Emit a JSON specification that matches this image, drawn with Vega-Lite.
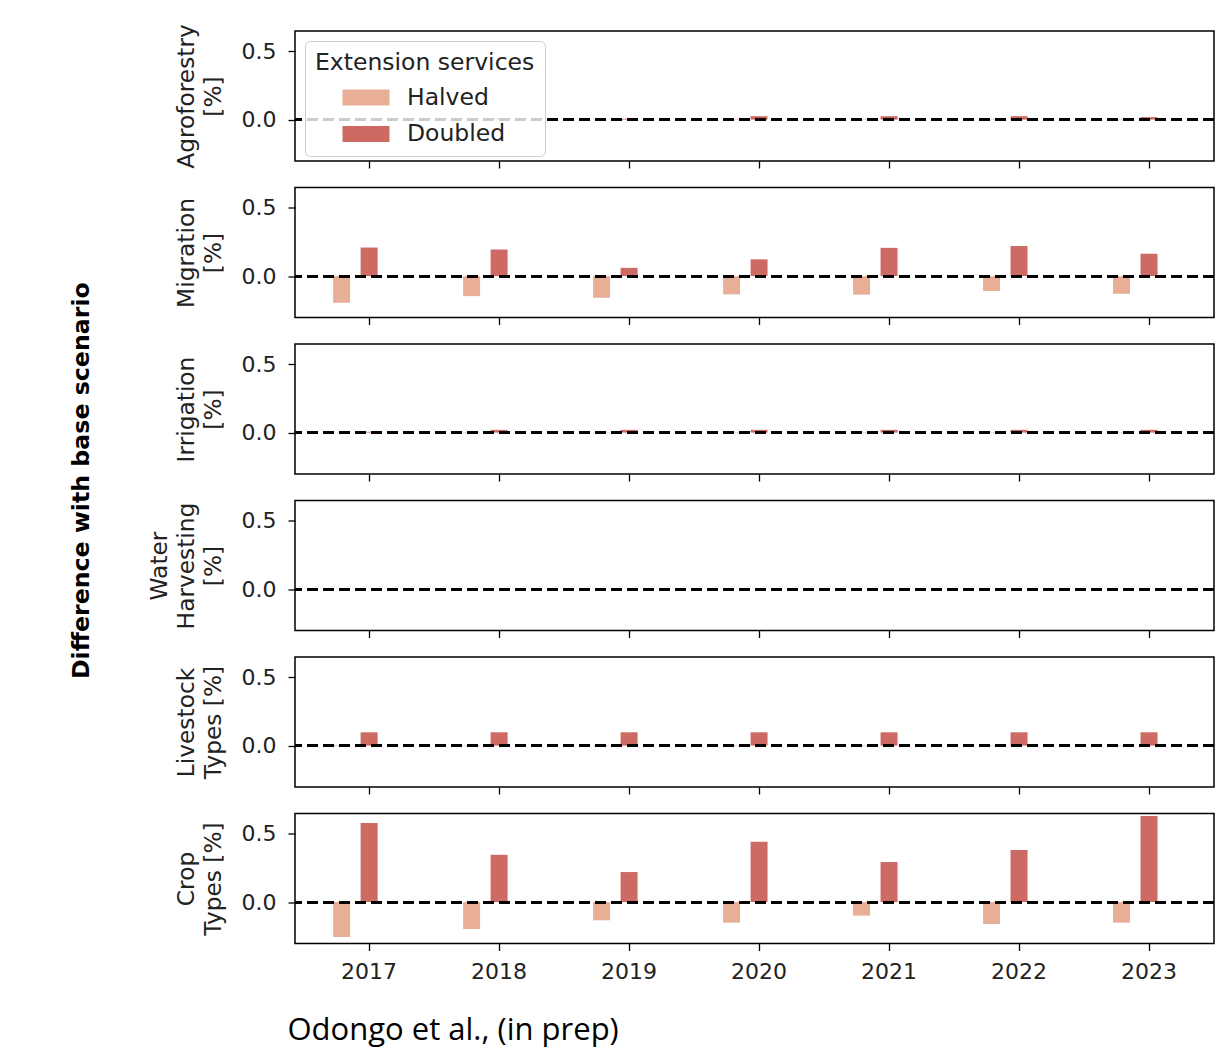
{
  "$schema": "https://vega.github.io/schema/vega-lite/v6.json",
  "padding": {"left": 69, "top": 22, "right": 5, "bottom": 6},
  "background": "white",
  "title": {"text": "Difference with base scenario", "orient": "left", "anchor": "middle", "fontSize": 23.7, "fontWeight": "bold", "font": "DejaVu Sans", "color": "black", "offset": 53, "dx": 54},
  "spacing": 16.5,
  "datasets": {
    "d": [
      {"practice": "Agroforestry", "year": 2017, "scenario": "Halved", "value": -0.002},
      {"practice": "Agroforestry", "year": 2017, "scenario": "Doubled", "value": 0.003},
      {"practice": "Agroforestry", "year": 2018, "scenario": "Halved", "value": -0.002},
      {"practice": "Agroforestry", "year": 2018, "scenario": "Doubled", "value": 0.008},
      {"practice": "Agroforestry", "year": 2019, "scenario": "Halved", "value": -0.002},
      {"practice": "Agroforestry", "year": 2019, "scenario": "Doubled", "value": 0.006},
      {"practice": "Agroforestry", "year": 2020, "scenario": "Halved", "value": -0.003},
      {"practice": "Agroforestry", "year": 2020, "scenario": "Doubled", "value": 0.025},
      {"practice": "Agroforestry", "year": 2021, "scenario": "Halved", "value": -0.003},
      {"practice": "Agroforestry", "year": 2021, "scenario": "Doubled", "value": 0.025},
      {"practice": "Agroforestry", "year": 2022, "scenario": "Halved", "value": -0.003},
      {"practice": "Agroforestry", "year": 2022, "scenario": "Doubled", "value": 0.025},
      {"practice": "Agroforestry", "year": 2023, "scenario": "Halved", "value": -0.004},
      {"practice": "Agroforestry", "year": 2023, "scenario": "Doubled", "value": 0.018},
      {"practice": "Migration", "year": 2017, "scenario": "Halved", "value": -0.195},
      {"practice": "Migration", "year": 2017, "scenario": "Doubled", "value": 0.208},
      {"practice": "Migration", "year": 2018, "scenario": "Halved", "value": -0.146},
      {"practice": "Migration", "year": 2018, "scenario": "Doubled", "value": 0.194},
      {"practice": "Migration", "year": 2019, "scenario": "Halved", "value": -0.158},
      {"practice": "Migration", "year": 2019, "scenario": "Doubled", "value": 0.06},
      {"practice": "Migration", "year": 2020, "scenario": "Halved", "value": -0.133},
      {"practice": "Migration", "year": 2020, "scenario": "Doubled", "value": 0.122},
      {"practice": "Migration", "year": 2021, "scenario": "Halved", "value": -0.135},
      {"practice": "Migration", "year": 2021, "scenario": "Doubled", "value": 0.206},
      {"practice": "Migration", "year": 2022, "scenario": "Halved", "value": -0.109},
      {"practice": "Migration", "year": 2022, "scenario": "Doubled", "value": 0.219},
      {"practice": "Migration", "year": 2023, "scenario": "Halved", "value": -0.129},
      {"practice": "Migration", "year": 2023, "scenario": "Doubled", "value": 0.163},
      {"practice": "Irrigation", "year": 2017, "scenario": "Halved", "value": -0.002},
      {"practice": "Irrigation", "year": 2017, "scenario": "Doubled", "value": 0.006},
      {"practice": "Irrigation", "year": 2018, "scenario": "Halved", "value": -0.003},
      {"practice": "Irrigation", "year": 2018, "scenario": "Doubled", "value": 0.02},
      {"practice": "Irrigation", "year": 2019, "scenario": "Halved", "value": -0.003},
      {"practice": "Irrigation", "year": 2019, "scenario": "Doubled", "value": 0.02},
      {"practice": "Irrigation", "year": 2020, "scenario": "Halved", "value": -0.003},
      {"practice": "Irrigation", "year": 2020, "scenario": "Doubled", "value": 0.02},
      {"practice": "Irrigation", "year": 2021, "scenario": "Halved", "value": -0.003},
      {"practice": "Irrigation", "year": 2021, "scenario": "Doubled", "value": 0.02},
      {"practice": "Irrigation", "year": 2022, "scenario": "Halved", "value": -0.003},
      {"practice": "Irrigation", "year": 2022, "scenario": "Doubled", "value": 0.02},
      {"practice": "Irrigation", "year": 2023, "scenario": "Halved", "value": -0.003},
      {"practice": "Irrigation", "year": 2023, "scenario": "Doubled", "value": 0.02},
      {"practice": "Water Harvesting", "year": 2017, "scenario": "Halved", "value": 0},
      {"practice": "Water Harvesting", "year": 2017, "scenario": "Doubled", "value": 0},
      {"practice": "Water Harvesting", "year": 2018, "scenario": "Halved", "value": 0},
      {"practice": "Water Harvesting", "year": 2018, "scenario": "Doubled", "value": 0},
      {"practice": "Water Harvesting", "year": 2019, "scenario": "Halved", "value": 0},
      {"practice": "Water Harvesting", "year": 2019, "scenario": "Doubled", "value": 0},
      {"practice": "Water Harvesting", "year": 2020, "scenario": "Halved", "value": 0},
      {"practice": "Water Harvesting", "year": 2020, "scenario": "Doubled", "value": 0},
      {"practice": "Water Harvesting", "year": 2021, "scenario": "Halved", "value": 0},
      {"practice": "Water Harvesting", "year": 2021, "scenario": "Doubled", "value": 0},
      {"practice": "Water Harvesting", "year": 2022, "scenario": "Halved", "value": 0},
      {"practice": "Water Harvesting", "year": 2022, "scenario": "Doubled", "value": 0},
      {"practice": "Water Harvesting", "year": 2023, "scenario": "Halved", "value": 0},
      {"practice": "Water Harvesting", "year": 2023, "scenario": "Doubled", "value": 0},
      {"practice": "Livestock Types", "year": 2017, "scenario": "Halved", "value": -0.004},
      {"practice": "Livestock Types", "year": 2017, "scenario": "Doubled", "value": 0.097},
      {"practice": "Livestock Types", "year": 2018, "scenario": "Halved", "value": -0.004},
      {"practice": "Livestock Types", "year": 2018, "scenario": "Doubled", "value": 0.097},
      {"practice": "Livestock Types", "year": 2019, "scenario": "Halved", "value": -0.004},
      {"practice": "Livestock Types", "year": 2019, "scenario": "Doubled", "value": 0.097},
      {"practice": "Livestock Types", "year": 2020, "scenario": "Halved", "value": -0.004},
      {"practice": "Livestock Types", "year": 2020, "scenario": "Doubled", "value": 0.097},
      {"practice": "Livestock Types", "year": 2021, "scenario": "Halved", "value": -0.004},
      {"practice": "Livestock Types", "year": 2021, "scenario": "Doubled", "value": 0.097},
      {"practice": "Livestock Types", "year": 2022, "scenario": "Halved", "value": -0.004},
      {"practice": "Livestock Types", "year": 2022, "scenario": "Doubled", "value": 0.097},
      {"practice": "Livestock Types", "year": 2023, "scenario": "Halved", "value": -0.004},
      {"practice": "Livestock Types", "year": 2023, "scenario": "Doubled", "value": 0.097},
      {"practice": "Crop Types", "year": 2017, "scenario": "Halved", "value": -0.255},
      {"practice": "Crop Types", "year": 2017, "scenario": "Doubled", "value": 0.576},
      {"practice": "Crop Types", "year": 2018, "scenario": "Halved", "value": -0.197},
      {"practice": "Crop Types", "year": 2018, "scenario": "Doubled", "value": 0.345},
      {"practice": "Crop Types", "year": 2019, "scenario": "Halved", "value": -0.133},
      {"practice": "Crop Types", "year": 2019, "scenario": "Doubled", "value": 0.219},
      {"practice": "Crop Types", "year": 2020, "scenario": "Halved", "value": -0.15},
      {"practice": "Crop Types", "year": 2020, "scenario": "Doubled", "value": 0.44},
      {"practice": "Crop Types", "year": 2021, "scenario": "Halved", "value": -0.099},
      {"practice": "Crop Types", "year": 2021, "scenario": "Doubled", "value": 0.292},
      {"practice": "Crop Types", "year": 2022, "scenario": "Halved", "value": -0.16},
      {"practice": "Crop Types", "year": 2022, "scenario": "Doubled", "value": 0.379},
      {"practice": "Crop Types", "year": 2023, "scenario": "Halved", "value": -0.15},
      {"practice": "Crop Types", "year": 2023, "scenario": "Doubled", "value": 0.627}
    ]
  },
  "vconcat": [
    {
      "width": 919, "height": 130,
      "data": {"name": "d"},
      "transform": [{"filter": "datum.practice == 'Agroforestry'"}],
      "layer": [
        {"mark": {"type": "bar"}, "encoding": {
          "x": {"field": "year", "type": "ordinal", "scale": {"paddingInner": 0, "paddingOuter": 0.035, "align": 1}, "axis": {"labels": false, "title": null}},
          "xOffset": {"field": "scenario", "type": "nominal", "scale": {"domain": ["Halved", "Doubled", "_a", "_b"], "paddingInner": 0.382, "paddingOuter": 0.555, "align": 0.951}},
          "y": {"field": "value", "type": "quantitative", "scale": {"domain": [-0.302, 0.646], "nice": false}, "axis": {"values": [0, 0.5], "format": ".1f", "title": ["Agroforestry", "[%]"]}},
          "y2": {"datum": 0},
          "color": {"field": "scenario", "type": "nominal", "scale": {"domain": ["Halved", "Doubled"], "range": ["#E8AF96", "#CD6A64"]},
            "legend": {"orient": "top-left", "offset": 10, "title": "Extension services", "titleLimit": 400, "symbolType": "M-2,-0.68H2V0.68H-2Z", "symbolSize": 552, "symbolStrokeWidth": 0, "symbolOpacity": 1, "fillColor": "rgba(255,255,255,0.8)", "strokeColor": "#cccccc", "cornerRadius": 5, "padding": 10, "titleFontSize": 23.5, "labelFontSize": 23.5, "titleFontWeight": "normal", "titleFont": "DejaVu Sans", "labelFont": "DejaVu Sans", "titleColor": "#222", "labelColor": "#222", "labelOffset": 29, "rowPadding": 12.5, "titlePadding": 11, "symbolOffset": 39}}
        }},
        {"mark": {"type": "rule", "strokeDash": [11, 5], "strokeWidth": 2.2, "color": "black"}, "encoding": {"y": {"datum": 0}}}
      ]
    },
    {
      "width": 919, "height": 130,
      "data": {"name": "d"},
      "transform": [{"filter": "datum.practice == 'Migration'"}],
      "layer": [
        {"mark": {"type": "bar"}, "encoding": {
          "x": {"field": "year", "type": "ordinal", "scale": {"paddingInner": 0, "paddingOuter": 0.035, "align": 1}, "axis": {"labels": false, "title": null}},
          "xOffset": {"field": "scenario", "type": "nominal", "scale": {"domain": ["Halved", "Doubled", "_a", "_b"], "paddingInner": 0.382, "paddingOuter": 0.555, "align": 0.951}},
          "y": {"field": "value", "type": "quantitative", "scale": {"domain": [-0.302, 0.646], "nice": false}, "axis": {"values": [0, 0.5], "format": ".1f", "title": ["Migration", "[%]"]}},
          "y2": {"datum": 0},
          "color": {"field": "scenario", "type": "nominal", "scale": {"domain": ["Halved", "Doubled"], "range": ["#E8AF96", "#CD6A64"]}, "legend": null}
        }},
        {"mark": {"type": "rule", "strokeDash": [11, 5], "strokeWidth": 2.2, "color": "black"}, "encoding": {"y": {"datum": 0}}}
      ]
    },
    {
      "width": 919, "height": 130,
      "data": {"name": "d"},
      "transform": [{"filter": "datum.practice == 'Irrigation'"}],
      "layer": [
        {"mark": {"type": "bar"}, "encoding": {
          "x": {"field": "year", "type": "ordinal", "scale": {"paddingInner": 0, "paddingOuter": 0.035, "align": 1}, "axis": {"labels": false, "title": null}},
          "xOffset": {"field": "scenario", "type": "nominal", "scale": {"domain": ["Halved", "Doubled", "_a", "_b"], "paddingInner": 0.382, "paddingOuter": 0.555, "align": 0.951}},
          "y": {"field": "value", "type": "quantitative", "scale": {"domain": [-0.302, 0.646], "nice": false}, "axis": {"values": [0, 0.5], "format": ".1f", "title": ["Irrigation", "[%]"]}},
          "y2": {"datum": 0},
          "color": {"field": "scenario", "type": "nominal", "scale": {"domain": ["Halved", "Doubled"], "range": ["#E8AF96", "#CD6A64"]}, "legend": null}
        }},
        {"mark": {"type": "rule", "strokeDash": [11, 5], "strokeWidth": 2.2, "color": "black"}, "encoding": {"y": {"datum": 0}}}
      ]
    },
    {
      "width": 919, "height": 130,
      "data": {"name": "d"},
      "transform": [{"filter": "datum.practice == 'Water Harvesting'"}],
      "layer": [
        {"mark": {"type": "bar"}, "encoding": {
          "x": {"field": "year", "type": "ordinal", "scale": {"paddingInner": 0, "paddingOuter": 0.035, "align": 1}, "axis": {"labels": false, "title": null}},
          "xOffset": {"field": "scenario", "type": "nominal", "scale": {"domain": ["Halved", "Doubled", "_a", "_b"], "paddingInner": 0.382, "paddingOuter": 0.555, "align": 0.951}},
          "y": {"field": "value", "type": "quantitative", "scale": {"domain": [-0.302, 0.646], "nice": false}, "axis": {"values": [0, 0.5], "format": ".1f", "title": ["Water", "Harvesting", "[%]"]}},
          "y2": {"datum": 0},
          "color": {"field": "scenario", "type": "nominal", "scale": {"domain": ["Halved", "Doubled"], "range": ["#E8AF96", "#CD6A64"]}, "legend": null}
        }},
        {"mark": {"type": "rule", "strokeDash": [11, 5], "strokeWidth": 2.2, "color": "black"}, "encoding": {"y": {"datum": 0}}}
      ]
    },
    {
      "width": 919, "height": 130,
      "data": {"name": "d"},
      "transform": [{"filter": "datum.practice == 'Livestock Types'"}],
      "layer": [
        {"mark": {"type": "bar"}, "encoding": {
          "x": {"field": "year", "type": "ordinal", "scale": {"paddingInner": 0, "paddingOuter": 0.035, "align": 1}, "axis": {"labels": false, "title": null}},
          "xOffset": {"field": "scenario", "type": "nominal", "scale": {"domain": ["Halved", "Doubled", "_a", "_b"], "paddingInner": 0.382, "paddingOuter": 0.555, "align": 0.951}},
          "y": {"field": "value", "type": "quantitative", "scale": {"domain": [-0.302, 0.646], "nice": false}, "axis": {"values": [0, 0.5], "format": ".1f", "title": ["Livestock", "Types [%]"]}},
          "y2": {"datum": 0},
          "color": {"field": "scenario", "type": "nominal", "scale": {"domain": ["Halved", "Doubled"], "range": ["#E8AF96", "#CD6A64"]}, "legend": null}
        }},
        {"mark": {"type": "rule", "strokeDash": [11, 5], "strokeWidth": 2.2, "color": "black"}, "encoding": {"y": {"datum": 0}}}
      ]
    },
    {
      "width": 919, "height": 130,
      "data": {"name": "d"},
      "transform": [{"filter": "datum.practice == 'Crop Types'"}],
      "layer": [
        {"mark": {"type": "bar"}, "encoding": {
          "x": {"field": "year", "type": "ordinal", "scale": {"paddingInner": 0, "paddingOuter": 0.035, "align": 1}, "axis": {"labelAngle": 0, "labelPadding": 11, "title": "Odongo et al., (in prep)", "titleFont": "Open Sans", "titleFontSize": 31, "titleColor": "black", "titleFontWeight": "normal", "titleAnchor": "start", "titleAlign": "left", "titleBaseline": "middle", "titleX": -8, "titleY": 87}},
          "xOffset": {"field": "scenario", "type": "nominal", "scale": {"domain": ["Halved", "Doubled", "_a", "_b"], "paddingInner": 0.382, "paddingOuter": 0.555, "align": 0.951}},
          "y": {"field": "value", "type": "quantitative", "scale": {"domain": [-0.302, 0.646], "nice": false}, "axis": {"values": [0, 0.5], "format": ".1f", "title": ["Crop", "Types [%]"]}},
          "y2": {"datum": 0},
          "color": {"field": "scenario", "type": "nominal", "scale": {"domain": ["Halved", "Doubled"], "range": ["#E8AF96", "#CD6A64"]}, "legend": null}
        }},
        {"mark": {"type": "rule", "strokeDash": [11, 5], "strokeWidth": 2.2, "color": "black"}, "encoding": {"y": {"datum": 0}}}
      ]
    }
  ],
  "resolve": {"scale": {"color": "independent"}, "legend": {"color": "independent"}},
  "config": {
    "font": "DejaVu Sans",
    "view": {"stroke": "black", "strokeWidth": 1.5},
    "axis": {"labelFont": "DejaVu Sans", "titleFont": "DejaVu Sans", "labelFontSize": 22, "titleFontSize": 23.3, "titleFontWeight": "normal", "labelColor": "#222", "titleColor": "#222", "tickColor": "black", "tickSize": 7, "tickWidth": 1.3, "grid": false, "domain": false, "labelPadding": 12, "titlePadding": 16, "titleLineHeight": 27},
    "bar": {"stroke": null}
  }
}
